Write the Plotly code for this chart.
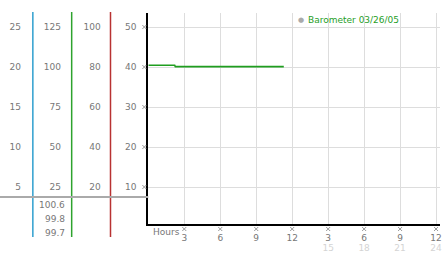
import plotly.graph_objects as go

W, H = 442, 253

# ---- data ----
hours = [0, 2.2, 2.25, 11.3]
baro = [40.45, 40.45, 40.1, 40.1]

main_ticks = [10, 20, 30, 40, 50]
col1_ticks = [5, 10, 15, 20, 25]
col2_ticks = [25, 50, 75, 100, 125]
col3_ticks = [20, 40, 60, 80, 100]
x_ticks = [3, 6, 9, 12, 15, 18, 21, 24]
x_labels = ["3", "6", "9", "12", "3", "6", "9", "12"]
x2_ticks = [15, 18, 21, 24]
x2_labels = ["15", "18", "21", "24"]
stats = ["100.6", "99.8", "99.7"]
title_text = "Barometer 03/26/05"
hours_label = "Hours"

# ---- layout geometry (pixels) ----
x0_px, x1_px = 149, 442
ytop_px, ybot_px = 13, 224
xrange_ = [0, 24.33]
yrange = [0.75, 53.5]
px_per_hour = (x1_px - x0_px) / (xrange_[1] - xrange_[0])
px_per_unit = (ybot_px - ytop_px) / (yrange[1] - yrange[0])

def py(p):
    return (H - p) / H

def px(p):
    return p / W

def hour_to_px(h):
    return x0_px + (h - xrange_[0]) * px_per_hour

def val_to_py(v):
    return ybot_px - (v - yrange[0]) * px_per_unit

FONT = "DejaVu Sans"
LBL = "#777777"
GRID = "#dddddd"

fig = go.Figure()

fig.add_trace(go.Scatter(x=hours, y=baro, mode="lines",
                         line=dict(color="#1f9e1f", width=1.6),
                         showlegend=False, hoverinfo="skip"))

# tick glyphs, drawn on a full-figure pixel subplot (x3 / y5)
glyph = dict(symbol="x-thin", size=4, color="#999999",
             line=dict(color="#999999", width=1))
gx_list = [hour_to_px(t) for t in x_ticks] + [145] * len(main_ticks)
gy_list = [229] * len(x_ticks) + [val_to_py(v) for v in main_ticks]
fig.add_trace(go.Scatter(x=gx_list, y=gy_list, mode="markers", marker=glyph,
                         xaxis="x3", yaxis="y5", cliponaxis=False,
                         showlegend=False, hoverinfo="skip"))

# empty traces to activate extra axes
for ya in ["y2", "y3", "y4"]:
    fig.add_trace(go.Scatter(x=[None], y=[None], yaxis=ya, showlegend=False))
fig.add_trace(go.Scatter(x=[None], y=[None], xaxis="x2", showlegend=False))

tickfont = dict(family=FONT, size=9, color=LBL)

def side_axis(pos_px, scale, ticks):
    return dict(overlaying="y", anchor="free", position=px(pos_px),
                range=[yrange[0] * scale, yrange[1] * scale],
                tickvals=ticks, showgrid=False, zeroline=False, showline=False,
                ticks="outside", ticklen=8, tickcolor="rgba(0,0,0,0)",
                tickfont=tickfont, fixedrange=True)

hidden = dict(visible=False, showgrid=False, zeroline=False, fixedrange=True)

fig.update_layout(
    width=W, height=H,
    margin=dict(l=0, r=0, t=0, b=0),
    paper_bgcolor="white", plot_bgcolor="rgba(0,0,0,0)",
    showlegend=False,
    xaxis=dict(domain=[px(x0_px), 1], range=xrange_, tickvals=x_ticks,
               ticktext=x_labels, showgrid=True, gridcolor=GRID, gridwidth=1,
               zeroline=False, showline=True, linecolor="black", linewidth=2,
               ticks="outside", ticklen=4, tickcolor="rgba(0,0,0,0)",
               tickfont=tickfont, anchor="y", ticklabeloverflow="allow"),
    xaxis2=dict(overlaying="x", range=xrange_, tickvals=x2_ticks,
                ticktext=x2_labels, showgrid=False, zeroline=False,
                showline=False, ticks="outside", ticklen=15,
                tickcolor="rgba(0,0,0,0)", side="bottom", anchor="y",
                ticklabeloverflow="allow",
                tickfont=dict(family=FONT, size=9, color="#d4d4d4")),
    xaxis3=dict(domain=[0, 1], range=[0, W], anchor="y5", **hidden),
    yaxis5=dict(domain=[0, 1], range=[H, 0], anchor="x3", **hidden),
    yaxis=dict(domain=[py(ybot_px), py(ytop_px)], range=yrange,
               tickvals=main_ticks, showgrid=True, gridcolor=GRID,
               zeroline=False, showline=True, linecolor="black", linewidth=2,
               ticks="outside", ticklen=8, tickcolor="rgba(0,0,0,0)",
               tickfont=tickfont),
    yaxis2=side_axis(31, 0.5, col1_ticks),
    yaxis3=side_axis(71, 2.5, col2_ticks),
    yaxis4=side_axis(111, 2.0, col3_ticks),
)

# coloured column lines and gray separator
for xp, col in [(33, "#2f9fcf"), (72, "#2ea32e"), (111, "#b83232")]:
    fig.add_shape(type="line", xref="paper", yref="paper",
                  x0=px(xp), x1=px(xp), y0=py(237), y1=py(12),
                  line=dict(color=col, width=1.5))
fig.add_shape(type="line", xref="paper", yref="paper",
              x0=0, x1=px(x0_px), y0=py(197), y1=py(197),
              line=dict(color="#aaaaaa", width=2))

# stats below separator
for txt, yp in zip(stats, [205, 219, 233]):
    fig.add_annotation(text=txt, xref="paper", yref="paper", x=px(67), y=py(yp),
                       xanchor="right", yanchor="middle", showarrow=False,
                       font=dict(family=FONT, size=9, color=LBL))

fig.add_annotation(text=hours_label, xref="x", yref="paper", x=0, y=py(232),
                   xanchor="left", yanchor="middle", xshift=3, showarrow=False,
                   font=dict(family=FONT, size=9, color=LBL))

# title / legend
fig.add_annotation(text="●", xref="paper", yref="paper", x=px(302), y=py(20),
                   xanchor="center", yanchor="middle", showarrow=False,
                   font=dict(family=FONT, size=7, color="#aaaaaa"))
fig.add_annotation(text=title_text, xref="paper", yref="paper", x=px(307), y=py(20),
                   xanchor="left", yanchor="middle", showarrow=False,
                   font=dict(family=FONT, size=9, color="#1f9e1f"))

fig.write_html("out.html")
